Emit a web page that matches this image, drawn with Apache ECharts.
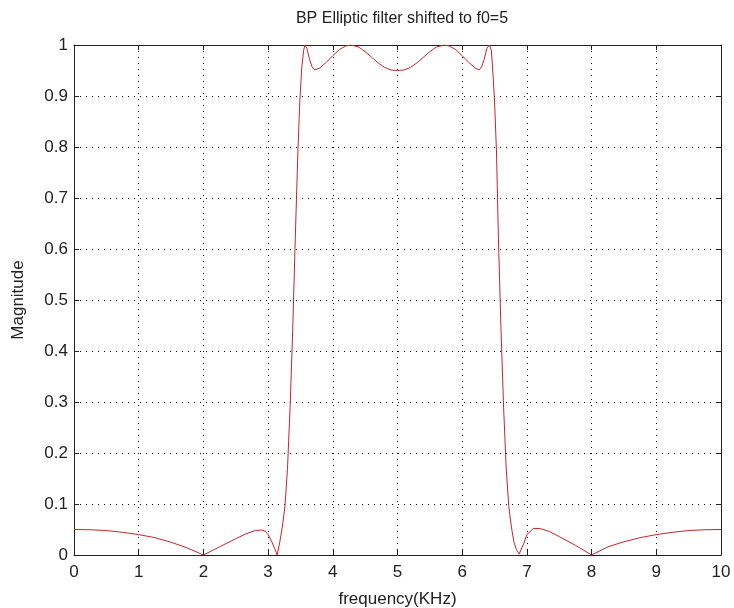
<!DOCTYPE html>
<html>
<head>
<meta charset="utf-8">
<script src="https://cdn.jsdelivr.net/npm/echarts@6/dist/echarts.min.js"></script>
<style>
  html, body { margin: 0; padding: 0; background: #fff; }
  #chart { width: 734px; height: 608px; }
</style>
</head>
<body>
<div id="chart"></div>
<script>
// values
var xTicks = [0, 1, 2, 3, 4, 5, 6, 7, 8, 9, 10];
var yTicks = [0, 0.1, 0.2, 0.3, 0.4, 0.5, 0.6, 0.7, 0.8, 0.9, 1];

var freq = [
  0, 0.25, 0.5, 0.75, 1, 1.25, 1.5, 1.75, 2,
  2.25, 2.5, 2.65, 2.8, 2.9, 2.95, 3, 3.05, 3.1, 3.14,
  3.18, 3.22, 3.26, 3.3, 3.34, 3.38, 3.42, 3.46, 3.49, 3.52, 3.55, 3.57,
  3.6, 3.64, 3.68, 3.72, 3.8, 3.9, 4, 4.1, 4.2, 4.28, 4.4, 4.5, 4.6, 4.7, 4.8, 4.9,
  5, 5.1, 5.2, 5.3, 5.4, 5.5, 5.6, 5.72, 5.8, 5.9, 6, 6.1, 6.2, 6.26,
  6.3, 6.34, 6.38, 6.42, 6.45, 6.47, 6.5, 6.53, 6.56, 6.6, 6.64, 6.68,
  6.72, 6.76, 6.8, 6.84, 6.88, 6.9,
  6.95, 7, 7.1, 7.2, 7.35, 7.5, 7.75, 8,
  8.25, 8.5, 8.75, 9, 9.25, 9.5, 9.75, 10
];
var mag = [
  0.05, 0.0495, 0.048, 0.0445, 0.04, 0.034, 0.025, 0.014, 0,
  0.016, 0.032, 0.041, 0.048, 0.049, 0.047, 0.04, 0.028, 0.013, 0,
  0.025, 0.055, 0.095, 0.17, 0.29, 0.44, 0.62, 0.79, 0.89, 0.955, 0.99, 1,
  0.993, 0.972, 0.957, 0.951, 0.955, 0.966, 0.979, 0.991, 0.998, 1, 0.996, 0.987, 0.976, 0.965, 0.956, 0.951,
  0.95, 0.951, 0.956, 0.965, 0.976, 0.987, 0.996, 1, 0.998, 0.991, 0.979, 0.966, 0.955, 0.951,
  0.957, 0.972, 0.993, 1, 0.99, 0.955, 0.89, 0.79, 0.62, 0.44, 0.29, 0.17,
  0.095, 0.055, 0.025, 0.01, 0.002, 0,
  0.022, 0.04, 0.052, 0.052, 0.046, 0.036, 0.019, 0,
  0.016, 0.026, 0.034, 0.04, 0.0445, 0.048, 0.0495, 0.05
];

var points = freq.map(function (f, i) { return [f, mag[i]]; });

var font = 'Liberation Sans, Arial, sans-serif';
var txt = { fontFamily: font, fontSize: 17, color: '#222' };
var dotted = { show: true, lineStyle: { color: '#000', type: [1, 5], width: 1 } };
var tickIn = { show: true, inside: true, length: 5, lineStyle: { color: '#222' } };
var boxLine = { show: true, onZero: false, lineStyle: { color: '#222', width: 1 } };

var chart = echarts.init(document.getElementById('chart'));
chart.setOption({
  backgroundColor: '#fff',
  animation: false,
  title: {
    text: 'BP Elliptic filter shifted to f0=5',
    left: 397, top: 6, textAlign: 'center',
    textStyle: { fontFamily: font, fontSize: 16, fontWeight: 'normal', color: '#222' }
  },
  grid: { left: 74, right: 13, top: 45, bottom: 53, outerBoundsMode: 'none', containLabel: false },
  xAxis: [
    {
      type: 'value', min: 0, max: 10, interval: 1,
      name: 'frequency(KHz)', nameLocation: 'middle', nameGap: 36,
      nameTextStyle: txt,
      axisLine: boxLine, axisTick: tickIn, splitLine: dotted,
      axisLabel: Object.assign({ margin: 9,
        formatter: function (v) { return xTicks.indexOf(v) >= 0 ? String(v) : ''; } }, txt)
    },
    {
      type: 'value', position: 'top', min: 0, max: 10, interval: 1,
      axisLine: boxLine, axisTick: tickIn, axisLabel: { show: false }, splitLine: { show: false }
    }
  ],
  yAxis: [
    {
      type: 'value', min: 0, max: 1, interval: 0.1,
      name: 'Magnitude', nameLocation: 'middle', nameGap: 47,
      nameTextStyle: txt,
      axisLine: boxLine, axisTick: tickIn, splitLine: dotted,
      axisLabel: Object.assign({ margin: 6,
        formatter: function (v) {
          var r = Math.round(v * 10) / 10;
          return yTicks.indexOf(r) >= 0 ? String(r) : '';
        } }, txt)
    },
    {
      type: 'value', position: 'right', min: 0, max: 1, interval: 0.1,
      axisLine: boxLine, axisTick: tickIn, axisLabel: { show: false }, splitLine: { show: false }
    }
  ],
  series: [{
    type: 'line',
    data: points,
    showSymbol: false,
    smooth: false,
    lineStyle: { color: '#c3262b', width: 1 },
    z: 3
  }]
});
</script>
</body>
</html>
